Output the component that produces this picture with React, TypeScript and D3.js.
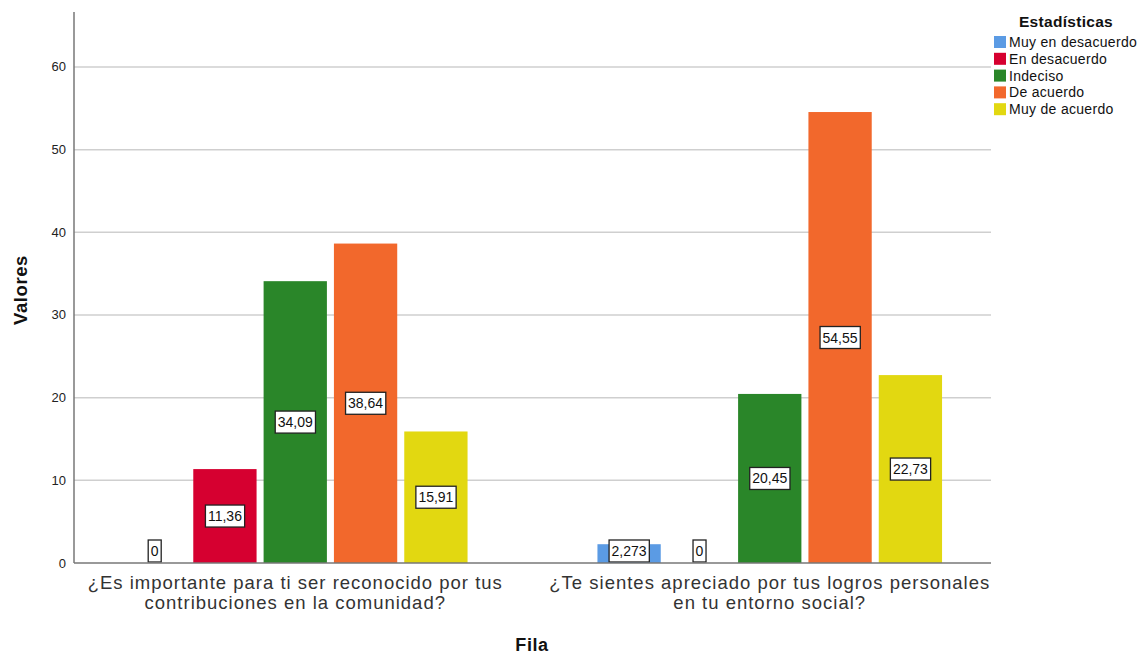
import * as d3 from "d3";
import { useEffect, useRef } from "react";

const categories = [
  ["¿Es importante para ti ser reconocido por tus", "contribuciones en la comunidad?"],
  ["¿Te sientes apreciado por tus logros personales", "en tu entorno social?"],
];
const series = ["Muy en desacuerdo", "En desacuerdo", "Indeciso", "De acuerdo", "Muy de acuerdo"];
const colors = ["#5b9be4", "#d60030", "#2a8629", "#f2682c", "#e2d811"];
const values = [
  [0, 11.36, 34.09, 38.64, 15.91],
  [2.273, 0, 20.45, 54.55, 22.73],
];
const labels = [
  ["0", "11,36", "34,09", "38,64", "15,91"],
  ["2,273", "0", "20,45", "54,55", "22,73"],
];
const yTicks = [0, 10, 20, 30, 40, 50, 60];

const FONT = "'Liberation Sans', Arial, sans-serif";

export default function App() {
  const ref = useRef<SVGSVGElement>(null);

  useEffect(() => {
    const width = 1140;
    const height = 654;
    const left = 74;
    const right = 991;
    const top = 12;
    const bottom = 563;

    const svg = d3.select(ref.current);
    svg.selectAll("*").remove();
    svg.attr("width", width).attr("height", height);

    const y = d3.scaleLinear().domain([0, 66.65]).range([bottom, top]);
    const x0 = d3.scaleBand<number>().domain([0, 1]).range([58, 1007]);
    const x1 = d3.scaleBand<number>().domain(d3.range(series.length)).range([-172.3, 172.3]).paddingInner(0.1);

    // grid
    svg.append("g")
      .selectAll("line")
      .data(yTicks.slice(1))
      .join("line")
      .attr("x1", left).attr("x2", right)
      .attr("y1", d => y(d)).attr("y2", d => y(d))
      .attr("stroke", "#cfcfcf").attr("stroke-width", 1.5);

    svg.append("g")
      .selectAll("text")
      .data(yTicks)
      .join("text")
      .attr("x", left - 8)
      .attr("y", d => y(d) + 4.5)
      .attr("text-anchor", "end")
      .attr("font-family", FONT).attr("font-size", 13)
      .attr("fill", "#222")
      .text(d => d);

    // bars
    const groups = svg.append("g")
      .selectAll("g")
      .data(values)
      .join("g")
      .attr("transform", (_, i) => `translate(${x0(i)! + x0.bandwidth() / 2},0)`);

    groups.selectAll("rect")
      .data(d => d.map((v, j) => ({ v, j })))
      .join("rect")
      .attr("x", d => x1(d.j)!)
      .attr("width", x1.bandwidth())
      .attr("y", d => y(d.v))
      .attr("height", d => bottom - y(d.v))
      .attr("fill", d => colors[d.j]);

    // axes lines
    svg.append("line")
      .attr("x1", left).attr("x2", right).attr("y1", bottom).attr("y2", bottom)
      .attr("stroke", "#777").attr("stroke-width", 1.5);
    svg.append("line")
      .attr("x1", left).attr("x2", left).attr("y1", top).attr("y2", bottom)
      .attr("stroke", "#777").attr("stroke-width", 1.5);

    // value labels
    groups.each(function (row, gi) {
      const g = d3.select(this);
      row.forEach((v, j) => {
        const cx = x1(j)! + x1.bandwidth() / 2;
        const cy = Math.min((y(v) + bottom) / 2, bottom - 12);
        const lg = g.append("g");
        const t = lg.append("text")
          .attr("x", cx).attr("y", cy + 5)
          .attr("text-anchor", "middle")
          .attr("font-family", FONT).attr("font-size", 14)
          .attr("fill", "#111")
          .text(labels[gi][j]);
        const bb = (t.node() as SVGTextElement).getBBox();
        lg.insert("rect", "text")
          .attr("x", bb.x - 2.5).attr("y", cy - 11)
          .attr("width", bb.width + 5).attr("height", 22)
          .attr("fill", "white").attr("stroke", "#222").attr("stroke-width", 1.3);
      });
    });

    // category labels
    svg.append("defs").append("clipPath").attr("id", "xclip")
      .append("rect").attr("x", 0).attr("y", 565).attr("width", 992).attr("height", 60);
    const cat = svg.append("g").attr("clip-path", "url(#xclip)");
    categories.forEach((lines, i) => {
      const t = cat.append("text")
        .attr("text-anchor", "middle")
        .attr("font-family", FONT).attr("font-size", 18.5)
        .attr("letter-spacing", 1)
        .attr("fill", "#333");
      lines.forEach((l, k) => {
        t.append("tspan")
          .attr("x", x0(i)! + x0.bandwidth() / 2)
          .attr("y", 589 + k * 20)
          .text(l);
      });
    });

    // axis titles
    svg.append("text")
      .attr("x", 532).attr("y", 651)
      .attr("text-anchor", "middle")
      .attr("font-family", FONT).attr("font-size", 18).attr("font-weight", "bold")
      .attr("letter-spacing", 0.6)
      .attr("fill", "#111")
      .text("Fila");
    svg.append("text")
      .attr("transform", `translate(27,290) rotate(-90)`)
      .attr("text-anchor", "middle")
      .attr("font-family", FONT).attr("font-size", 18.5).attr("font-weight", "bold")
      .attr("letter-spacing", 0.6)
      .attr("fill", "#111")
      .text("Valores");

    // legend
    const lg = svg.append("g");
    lg.append("text")
      .attr("x", 1066).attr("y", 27)
      .attr("text-anchor", "middle")
      .attr("font-family", FONT).attr("font-size", 15.5).attr("font-weight", "bold")
      .attr("letter-spacing", 0.3)
      .attr("fill", "#111")
      .text("Estadísticas");
    series.forEach((s, i) => {
      const yy = 36 + i * 16.8;
      lg.append("rect").attr("x", 994).attr("y", yy).attr("width", 12).attr("height", 12).attr("fill", colors[i]);
      lg.append("text")
        .attr("x", 1009).attr("y", yy + 11)
        .attr("font-family", FONT).attr("font-size", 14)
        .attr("letter-spacing", 0.3)
        .attr("fill", "#111")
        .text(s);
    });
  }, []);

  return <svg ref={ref} style={{ position: "absolute", left: 0, top: 0 }} />;
}
